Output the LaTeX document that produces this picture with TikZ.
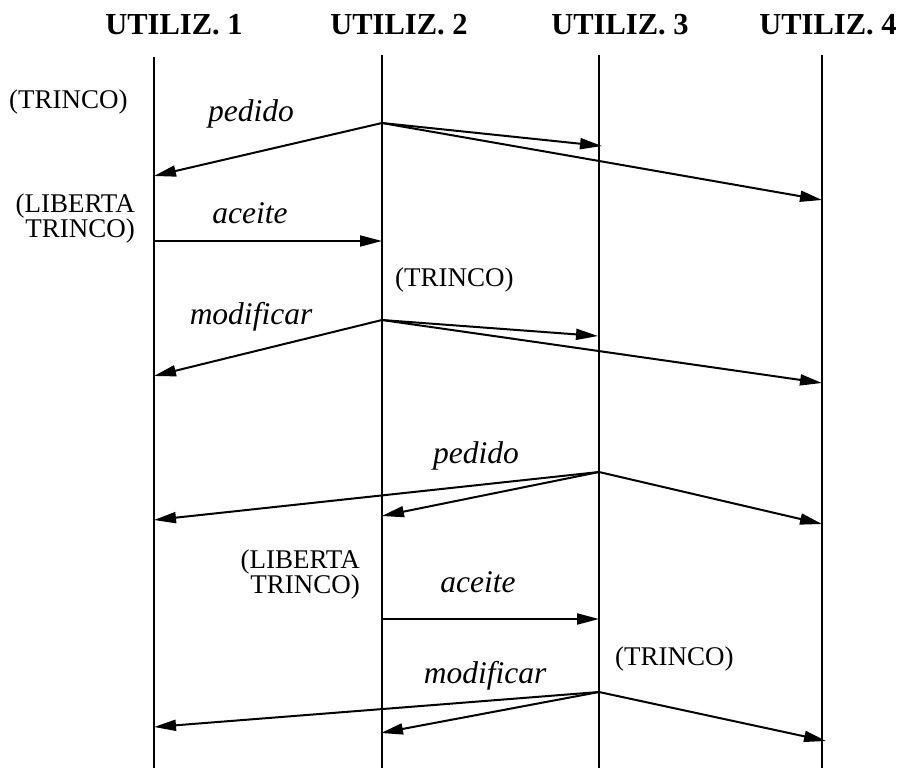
\documentclass[tikz,border=0pt]{standalone}
\usepackage{fontspec}
\setmainfont{Liberation Serif}
\usetikzlibrary{arrows.meta}
\begin{document}
\begin{tikzpicture}[x=1pt,y=-1pt,
  lifeline/.style={line width=2pt},
  msg/.style={line width=2pt,-{Triangle[length=22pt,width=11pt]}},
  head/.style={font=\fontsize{30.5}{34}\selectfont\bfseries,inner sep=0pt,anchor=base},
  note/.style={font=\fontsize{27}{25}\selectfont,inner sep=0pt,align=right},
  act/.style={font=\fontsize{31.5}{34}\selectfont\itshape,inner sep=0pt,anchor=base}]
\useasboundingbox (0,0) rectangle (902,768);

% participants
\node[head] (h1) at (174,35) {UTILIZ. 1};
\node[head] (h2) at (399,35) {UTILIZ. 2};
\node[head] (h3) at (620,35) {UTILIZ. 3};
\node[head] (h4) at (828,35) {UTILIZ. 4};

% lifelines
\coordinate (t1) at (154,57);  \coordinate (b1) at (154,768);
\coordinate (t2) at (382,55);  \coordinate (b2) at (382,768);
\coordinate (t3) at (599,55);  \coordinate (b3) at (599,768);
\coordinate (t4) at (822,55);  \coordinate (b4) at (822,768);
\foreach \i in {1,...,4} \draw[lifeline] (t\i) -- (b\i);

% round 1: user 2 asks for the lock
\coordinate (s1) at (382,123);
\coordinate (r1a) at (154,176);
\coordinate (r1c) at (602,146);
\coordinate (r1d) at (822,200);
\draw[msg] (s1) -- (r1a);
\draw[msg] (s1) -- (r1c);
\draw[msg] (s1) -- (r1d);

\coordinate (s2) at (154,241);
\coordinate (r2b) at (382,241);
\draw[msg] (s2) -- (r2b);

\coordinate (s3) at (382,320);
\coordinate (r3a) at (154,376);
\coordinate (r3c) at (598,336);
\coordinate (r3d) at (822,383);
\draw[msg] (s3) -- (r3a);
\draw[msg] (s3) -- (r3c);
\draw[msg] (s3) -- (r3d);

% round 2: user 3 asks for the lock
\coordinate (s4) at (599,472);
\coordinate (r4a) at (154,520);
\coordinate (r4b) at (382,516);
\coordinate (r4d) at (822,524);
\draw[msg] (s4) -- (r4a);
\draw[msg] (s4) -- (r4b);
\draw[msg] (s4) -- (r4d);

\coordinate (s5) at (382,619);
\coordinate (r5c) at (599,619);
\draw[msg] (s5) -- (r5c);

\coordinate (s6) at (599,692);
\coordinate (r6a) at (154,727);
\coordinate (r6b) at (381,733);
\coordinate (r6d) at (826,741);
\draw[msg] (s6) -- (r6a);
\draw[msg] (s6) -- (r6b);
\draw[msg] (s6) -- (r6d);

% state notes (base anchor sits on the last line)
\node[note,anchor=base west] (n1) at (9,108) {(TRINCO)};
\node[note,anchor=base east] (n2) at (135,237) {(LIBERTA\\TRINCO)};
\node[note,anchor=base west] (n3) at (395,286) {(TRINCO)};
\node[note,anchor=base east] (n4) at (360,593) {(LIBERTA\\TRINCO)};
\node[note,anchor=base west] (n5) at (615,665) {(TRINCO)};

% message labels
\node[act] (a1) at (251,121) {pedido};
\node[act] (a2) at (250,223) {aceite};
\node[act] (a3) at (251,324) {modificar};
\node[act] (a4) at (476,463) {pedido};
\node[act] (a5) at (478,592) {aceite};
\node[act] (a6) at (485,683) {modificar};
\end{tikzpicture}
\end{document}
